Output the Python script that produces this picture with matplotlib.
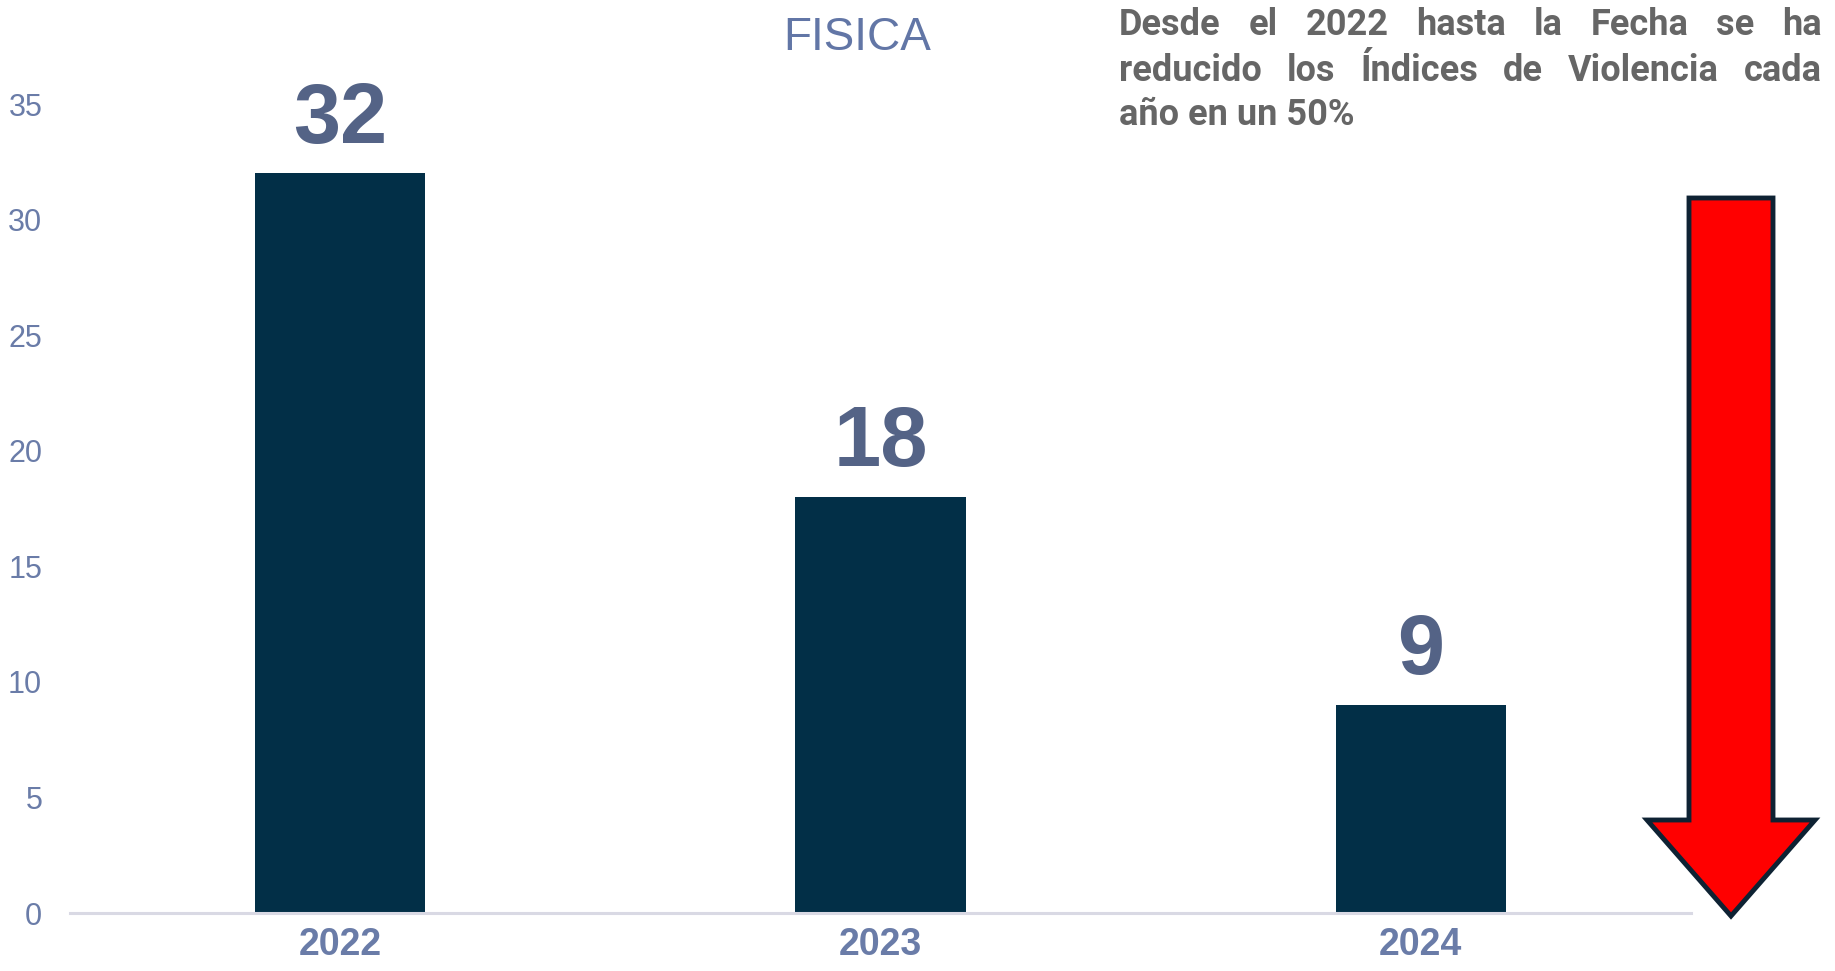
#!/usr/bin/env python3
import matplotlib
matplotlib.use("Agg")
import matplotlib.pyplot as plt
from matplotlib.patches import Polygon

# data
years = ["2022", "2023", "2024"]
cases = [32, 18, 9]
y_ticks = [0, 5, 10, 15, 20, 25, 30, 35]
title = "FISICA"
note_lines = [
    "Desde el 2022 hasta la Fecha se ha",
    "reducido los Índices de Violencia cada",
    "año en un 50%",
]

W, H = 1835, 971
BAR_COLOR = "#022f47"
TICK_COLOR = "#6a7ca8"
LABEL_COLOR = "#546386"
NOTE_COLOR = "#666666"


def px(x, y):
    # figure pixel (from top-left) -> figure fraction
    return x / W, 1 - y / H


def draw_justified(fig, lines, left, right, baselines, **kw):
    renderer = fig.canvas.get_renderer()
    for i, (line, yb) in enumerate(zip(lines, baselines)):
        words = line.split()
        last = i == len(lines) - 1
        if last:
            fig.text(*px(left, yb), line, ha="left", va="baseline", **kw)
            continue
        texts = [fig.text(0, 0, w, ha="left", va="baseline", **kw) for w in words]
        widths = [t.get_window_extent(renderer).width for t in texts]
        gap = (right - left - sum(widths)) / (len(words) - 1)
        x = left
        for t, w in zip(texts, widths):
            t.set_position(px(x, yb))
            x += w + gap


def main():
    fig = plt.figure(figsize=(W / 100, H / 100), dpi=100)
    ax = fig.add_axes([70 / W, 1 - 913 / H, (1691 - 70) / W, (913 - 104) / H])

    xs = range(len(years))
    bars = ax.bar(xs, cases, width=0.315, color=BAR_COLOR)
    ax.set_xlim(-0.5, 2.5)
    ax.set_ylim(0, 35)

    for b, v in zip(bars, cases):
        ax.annotate(str(v), (b.get_x() + b.get_width() / 2, v),
                    xytext=(0, 22), textcoords="offset points",
                    ha="center", va="baseline", fontsize=61, fontweight="bold",
                    family="Liberation Sans", color=LABEL_COLOR)

    ax.set_xticks(list(xs))
    ax.set_xticklabels(years, fontsize=27, fontweight="bold",
                       family="Liberation Sans", color=TICK_COLOR)
    ax.set_yticks(y_ticks)
    ax.set_yticklabels([str(t) for t in y_ticks], fontsize=22,
                       family="Liberation Sans", color=TICK_COLOR)
    ax.tick_params(axis="both", length=0)
    ax.tick_params(axis="y", pad=20)
    ax.tick_params(axis="x", pad=10)

    for s in ["top", "left", "right"]:
        ax.spines[s].set_visible(False)
    ax.spines["bottom"].set_color("#d9d9e4")
    ax.spines["bottom"].set_linewidth(2.2)

    fig.text(*px(857, 50), title, ha="center", va="baseline", fontsize=33,
             family="Liberation Sans", color="#6276a6")

    draw_justified(fig, note_lines, 1119, 1822, [35, 81, 125],
                   fontsize=26, fontweight="bold", family="Roboto",
                   color=NOTE_COLOR)

    # big red down arrow on the right
    cx = 1731
    shaft_half, head_half = 42, 84
    top, head_base, tip = 198, 820, 916
    pts = [(cx - shaft_half, top), (cx + shaft_half, top),
           (cx + shaft_half, head_base), (cx + head_half, head_base),
           (cx, tip), (cx - head_half, head_base),
           (cx - shaft_half, head_base)]
    arrow = Polygon([px(x, y) for x, y in pts], closed=True,
                    transform=fig.transFigure, facecolor="#ff0000",
                    edgecolor="#0e2233", linewidth=3.5, joinstyle="miter")
    fig.patches.append(arrow)

    fig.savefig("out.png", dpi=100)
    plt.close(fig)


if __name__ == "__main__":
    main()
